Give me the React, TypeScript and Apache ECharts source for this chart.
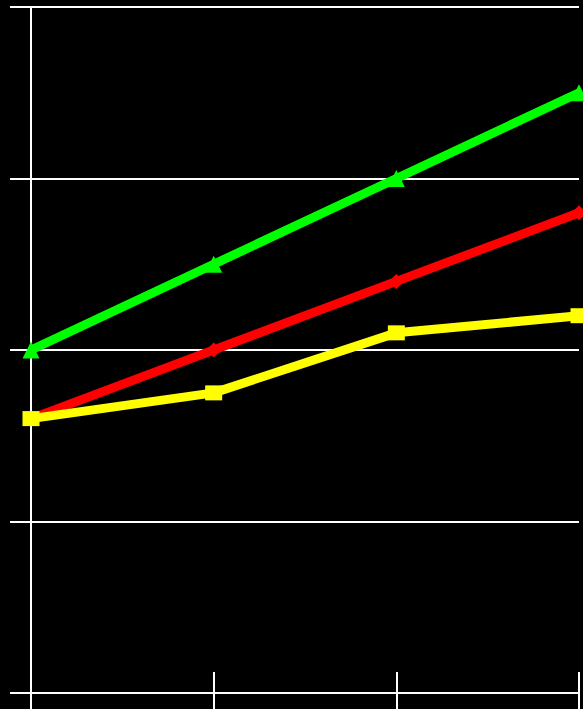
import React, { useEffect, useRef } from "react";
import * as echarts from "echarts";

const categories = ["A", "B", "C", "D"];
const greenValues = [2.0, 2.5, 3.0, 3.5];
const redValues = [1.6, 2.0, 2.4, 2.8];
const yellowValues = [1.6, 1.75, 2.1, 2.2];
const yTicks = [0, 1, 2, 3, 4];

export default function App() {
  const ref = useRef<HTMLDivElement>(null);
  useEffect(() => {
    if (!ref.current) return;
    const chart = echarts.init(ref.current, undefined, { renderer: "svg" });
    const white = "#ffffff";
    const mk = (name: string, data: number[], color: string, symbol: string, size: any) => ({
      name,
      type: "line",
      data,
      symbol,
      symbolSize: size,
      showAllSymbol: true,
      lineStyle: { color, width: 9 },
      itemStyle: { color },
      emphasis: { disabled: true },
    });
    chart.setOption({
      animation: false,
      backgroundColor: "#000000",
      grid: { left: 31, right: 4, top: 7, bottom: 16, containLabel: false },
      xAxis: [
        {
          type: "category",
          data: categories,
          boundaryGap: false,
          axisLine: { show: true, lineStyle: { color: white, width: 2 } },
          axisTick: { show: true, inside: false, length: 21, lineStyle: { color: white, width: 2 } },
          axisLabel: { show: false },
          splitLine: { show: false },
        },
        {
          type: "category",
          data: categories,
          boundaryGap: false,
          position: "bottom",
          axisLine: { show: false },
          axisTick: { show: true, inside: true, length: 21, lineStyle: { color: white, width: 2 } },
          axisLabel: { show: false },
          splitLine: { show: false },
        },
      ],
      yAxis: {
        type: "value",
        min: yTicks[0],
        max: yTicks[yTicks.length - 1],
        interval: 1,
        axisLine: { show: true, lineStyle: { color: white, width: 2 } },
        axisTick: { show: true, length: 21, lineStyle: { color: white, width: 2 } },
        axisLabel: { show: false },
        splitLine: { show: true, lineStyle: { color: white, width: 2 } },
      },
      series: [
        mk("green", greenValues, "#00ff00", "triangle", 17),
        mk("red", redValues, "#ff0000", "diamond", 15),
        mk("yellow", yellowValues, "#ffff00", "rect", [17, 15]),
      ],
    });
    return () => chart.dispose();
  }, []);
  return (
    <div
      ref={ref}
      style={{ position: "fixed", left: 0, top: 0, width: 583, height: 709, background: "#000" }}
    />
  );
}
